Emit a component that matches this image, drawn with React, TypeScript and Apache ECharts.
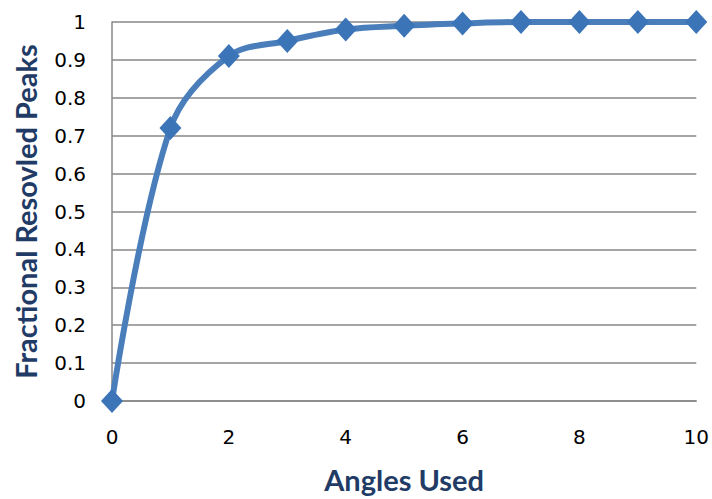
import React, { useEffect, useRef } from "react";
import * as echarts from "echarts";

// Number of angles used vs. fraction of peaks resolved
const anglesUsed = [0, 1, 2, 3, 4, 5, 6, 7, 8, 9, 10];
const resolvedFraction = [0, 0.72, 0.91, 0.95, 0.98, 0.99, 0.996, 1, 1, 1, 1];

const xTitle = "Angles Used";
const yTitle = "Fractional Resovled Peaks";

const lineBlue = "#4A7EBB";
const markerBlue = "#3C74B8";
const titleNavy = "#1F3B66";
const gridGray = "#878787";

export default function App() {
  const ref = useRef<HTMLDivElement>(null);

  useEffect(() => {
    if (!ref.current) return;
    const chart = echarts.init(ref.current, undefined, { renderer: "svg" });
    const tickLabel = {
      fontFamily: "DejaVu Sans",
      fontSize: 20,
      color: "#000000",
    };
    const titleText = {
      fontFamily: "Lato",
      fontWeight: "bold",
      fontSize: 29,
      color: titleNavy,
    };
    chart.setOption({
      animation: false,
      backgroundColor: "#ffffff",
      grid: { left: 112, right: 13, top: 22, bottom: 92 },
      xAxis: {
        type: "value",
        min: 0,
        max: 10,
        interval: 2,
        name: xTitle,
        nameLocation: "middle",
        nameGap: 64,
        nameTextStyle: titleText,
        axisLine: { show: true, lineStyle: { color: gridGray, width: 1.5 } },
        axisTick: { show: false },
        splitLine: { show: false },
        axisLabel: { margin: 26, ...tickLabel },
      },
      yAxis: {
        type: "value",
        min: 0,
        max: 1,
        interval: 0.1,
        name: yTitle,
        nameLocation: "middle",
        nameGap: 72,
        nameRotate: 90,
        nameTextStyle: titleText,
        axisLine: { show: true, lineStyle: { color: gridGray, width: 1.5 } },
        axisTick: { show: false },
        splitLine: { show: true, lineStyle: { color: gridGray, width: 1.5 } },
        axisLabel: { margin: 26, ...tickLabel },
      },
      series: [
        {
          type: "line",
          data: anglesUsed.map((a, i) => [a, resolvedFraction[i]]),
          smooth: 0.35,
          symbol: "diamond",
          symbolSize: [22, 24],
          lineStyle: { color: lineBlue, width: 6 },
          itemStyle: { color: markerBlue },
          z: 3,
        },
      ],
    });
    return () => chart.dispose();
  }, []);

  return (
    <div
      ref={ref}
      style={{ position: "fixed", left: 0, top: 0, width: 712, height: 499 }}
    />
  );
}
